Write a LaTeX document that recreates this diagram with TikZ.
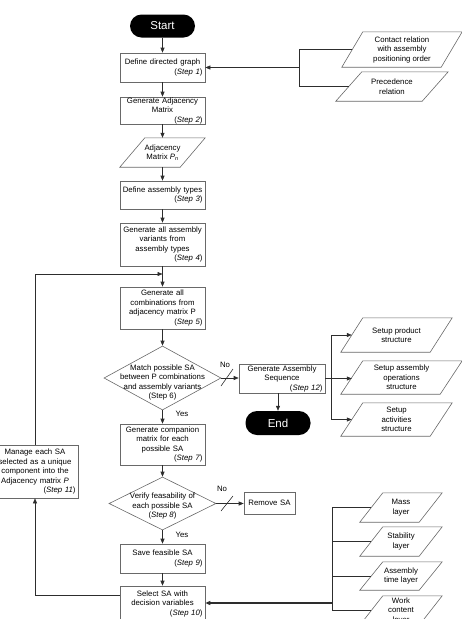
\documentclass[tikz,border=0pt]{standalone}
\usepackage{fontspec}
\setmainfont{Liberation Sans}
\usetikzlibrary{shapes.geometric,arrows.meta,calc}
\hyphenpenalty=10000
\exhyphenpenalty=10000
\definecolor{boxc}{RGB}{105,105,105}
\definecolor{linec}{RGB}{45,45,45}
\newcommand\paraout[2]{\draw[draw=boxc,line width=0.6pt] ([xshift=#2]#1.north west) -- (#1.north east) -- ([xshift=-#2]#1.south east) -- (#1.south west) -- cycle;}
\tikzset{
  base/.style={font=\fontsize{7.8}{9.5}\selectfont, text=black},
  proc/.style={base, draw=boxc, line width=0.6pt, rectangle, minimum width=85pt, align=center, text width=80pt, inner xsep=2.5pt, inner ysep=0pt},
  term/.style={fill=black, text=white, rounded corners=11.5pt, minimum width=65pt, minimum height=23pt, inner sep=0pt, font=\fontsize{11.5}{13}\selectfont},
  paratxt/.style={base, align=center, inner sep=0pt},
  decis/.style={draw=boxc, line width=0.6pt, diamond, inner sep=0pt},
  conn/.style={draw=linec, line width=0.6pt},
  arr/.style={conn, -{Triangle[length=5pt,width=4pt]}},
}
\begin{document}
\begin{tikzpicture}[x=1pt,y=-1pt]
\useasboundingbox (0,0) rectangle (462,619);
% main column
\node[term] (start) at (162.5,26) {Start};
\node[proc, minimum height=29pt] (s1) at (162.5,67.5) {Define directed graph\\ \mbox{}\hfill(\textit{Step 1})};
\node[proc, minimum height=27pt] (s2) at (162.5,110.5) {Generate Adjacency\\ Matrix\\ \mbox{}\hfill(\textit{Step 2})};
\node[paratxt, minimum width=85pt, minimum height=29pt] (adj) at (162.5,152.5) {Adjacency\\ Matrix \textit{P}\textsubscript{\textit{n}}};
\paraout{adj}{25pt}
\node[proc, minimum height=28pt] (s3) at (162.5,195) {Define assembly types\\ \mbox{}\hfill(\textit{Step 3})};
\node[proc, minimum height=43pt] (s4) at (162.5,244.5) {Generate all assembly\\ variants from\\ assembly types\\ \mbox{}\hfill(\textit{Step 4})};
\node[proc, minimum height=42pt] (s5) at (162.5,308) {Generate all\\ combinations from\\ adjacency matrix P\\ \mbox{}\hfill(\textit{Step 5})};
\node[decis, minimum width=117pt, minimum height=64pt] (d6) at (162.5,378) {};
\node[base, align=center, inner sep=0pt] (d6t) at (162.5,382.5) {Match possible SA\\ between P combinations\\ and assembly variants\\ (Step 6)};
\node[proc, minimum height=41pt] (s7) at (162.5,444.5) {Generate companion\\ matrix for each\\ possible SA\\ \mbox{}\hfill(\textit{Step 7})};
\node[decis, minimum width=107pt, minimum height=53pt] (d8) at (162.5,503.5) {};
\node[base, align=center, inner sep=0pt] (d8t) at (162.5,506) {Verify feasability of\\ each possible SA\\ (\textit{Step 8})};
\node[proc, minimum height=29pt] (s9) at (162.5,558.5) {Save feasible SA\\ \mbox{}\hfill(\textit{Step 9})};
\node[proc, minimum height=35pt] (s10) at (162.5,603.5) {Select SA with\\ decision variables\\ \mbox{}\hfill(\textit{Step 10})};
% left
\node[proc, minimum width=86pt, text width=81pt, minimum height=53pt] (s11) at (35,471.5) {Manage each SA\\ selected as a unique\\ component into the\\ Adjacency matrix \textit{P}\\ \mbox{}\hfill(\textit{Step 11})};
% right side
\node[proc, minimum width=86pt, text width=81pt, minimum height=29pt] (s12) at (282,378.5) {Generate Assembly\\ Sequence\\ \mbox{}\hfill(\textit{Step 12})};
\node[term, minimum width=65pt, minimum height=24pt] (end) at (278,423) {End};
\node[proc, minimum width=51pt, text width=48pt, inner xsep=1.5pt, minimum height=22pt] (rem) at (269.5,503) {Remove SA};
% inputs
\node[paratxt, minimum width=120pt, minimum height=35pt] (ct) at (402,49.5) {Contact relation\\ with assembly\\ positioning order};
\paraout{ct}{21pt}
\node[paratxt, minimum width=112pt, minimum height=29pt] (pr) at (392,86.5) {Precedence\\ relation};
\paraout{pr}{26pt}
% outputs
\node[paratxt, minimum width=111pt, minimum height=34pt] (sp1) at (396.5,335) {Setup product\\ structure};
\paraout{sp1}{22pt}
\node[paratxt, minimum width=121pt, minimum height=33pt] (sp2) at (401.5,377.5) {Setup assembly\\ operations\\ structure};
\paraout{sp2}{22pt}
\node[paratxt, minimum width=111pt, minimum height=33pt] (sp3) at (396.5,419.5) {Setup\\ activities\\ structure};
\paraout{sp3}{22pt}
% layers
\node[paratxt, minimum width=82pt, minimum height=29pt] (ml) at (401,507.5) {Mass\\ layer};
\paraout{ml}{23pt}
\node[paratxt, minimum width=82pt, minimum height=29pt] (sl) at (401,541.5) {Stability\\ layer};
\paraout{sl}{23pt}
\node[paratxt, minimum width=82pt, minimum height=28pt] (al) at (401,576) {Assembly\\ time layer};
\paraout{al}{23pt}
\node[paratxt, minimum width=82pt, minimum height=29pt] (wl) at (401,610.5) {Work\\ content\\ layer};
\paraout{wl}{23pt}
% labels
\node[base, inner sep=0pt] (no1) at (225,365) {No};
\node[base, inner sep=0pt] (no2) at (222,489) {No};
\node[base, inner sep=0pt] (yes1) at (182,414) {Yes};
\node[base, inner sep=0pt] (yes2) at (182,535) {Yes};
% coordinates
\coordinate (cb) at (299,67.5);
\coordinate (sb) at (331,378.5);
\coordinate (lb) at (332,603);
\coordinate (fbx) at (35,595);
\coordinate (loopy) at (162.5,274);
% main connectors
\draw[arr] (start) -- (s1);
\draw[arr] (s1) -- (s2);
\draw[arr] (s2) -- (adj);
\draw[arr] (adj) -- (s3);
\draw[arr] (s3) -- (s4);
\draw[arr] (s4) -- (s5);
\draw[arr] (s5) -- (d6);
\draw[arr] (d6) -- (s7);
\draw[arr] (s7) -- (d8);
\draw[arr] (d8) -- (s9);
\draw[arr] (s9) -- (s10);
\draw[arr] (d6.east) -- (s12.west |- d6.east);
\draw[arr] (end |- s12.south) -- (end.north);
\draw[arr] (d8.east) -- (rem.west |- d8.east);
% slashes
\draw[conn] (221,386) -- (233,369);
\draw[conn] (221,511) -- (233,496);
% feedback loop
\draw[arr] (s10.west |- fbx) -- (fbx) -- (fbx |- s11.south);
\draw[arr] (fbx |- s11.north) |- (loopy);
% inputs
\draw[conn] (cb |- ct) -- (cb |- pr);
\draw[arr] (cb) -- (s1.east);
\draw[conn] (cb |- ct) -- ([xshift=10.5pt]ct.west);
\draw[conn] (cb |- pr) -- ([xshift=13pt]pr.west);
% outputs
\draw[conn] (s12.east) -- (sb);
\draw[conn] (sb |- sp1) -- (sb |- sp3);
\draw[arr] (sb |- sp1) -- ([xshift=11pt]sp1.west);
\draw[arr] (sb) -- ([xshift=11pt]sp2.west |- sb);
\draw[arr] (sb |- sp3) -- ([xshift=11pt]sp3.west);
% layers
\draw[conn] (lb |- ml) -- (lb |- wl);
\draw[conn] (lb |- ml) -- ([xshift=11.5pt]ml.west);
\draw[conn] (lb |- sl) -- ([xshift=11.5pt]sl.west);
\draw[conn] (lb |- al) -- ([xshift=11.5pt]al.west);
\draw[conn] (lb |- wl) -- ([xshift=11.5pt]wl.west);
\draw[arr, line width=1.3pt] (lb) -- (s10.east |- lb);
\end{tikzpicture}
\end{document}
